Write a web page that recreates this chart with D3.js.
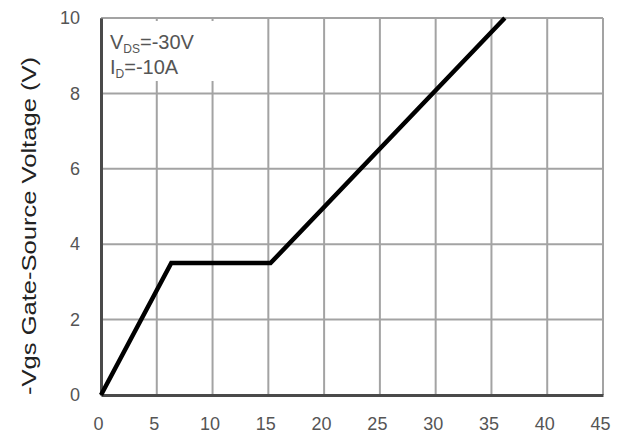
<!DOCTYPE html>
<html>
<head>
<meta charset="utf-8">
<script src="https://cdn.jsdelivr.net/npm/d3@7"></script>
<style>
  html, body { margin: 0; padding: 0; background: #fff; }
  svg { display: block; }
</style>
</head>
<body>
<svg id="chart" width="635" height="437"></svg>
<script>
// Data
const chargeNC = [0, 6.3, 15.2, 36.2];       // x: total gate charge (nC)
const vgsValues = [0, 3.5, 3.5, 10];          // y: -Vgs (V)
const xTicks = [0, 5, 10, 15, 20, 25, 30, 35, 40, 45];
const yTicks = [0, 2, 4, 6, 8, 10];
const yTitle = "-Vgs Gate-Source Voltage (V)";
const noteLines = [
  { main: "V", sub: "DS", rest: "=-30V" },
  { main: "I", sub: "D", rest: "=-10A" }
];

const svg = d3.select("#chart");
const L = 101, R = 603, T = 18, B = 395;
const x = d3.scaleLinear().domain([0, 45]).range([L, R]);
const y = d3.scaleLinear().domain([0, 10]).range([B, T]);
const font = "'Liberation Sans', Arial, sans-serif";

// Grid
const grid = svg.append("g").attr("stroke", "#a3a3a3").attr("stroke-width", 2);
grid.selectAll("line.v").data(xTicks).join("line")
  .attr("x1", d => x(d)).attr("x2", d => x(d)).attr("y1", T).attr("y2", B);
grid.selectAll("line.h").data(yTicks).join("line")
  .attr("x1", L).attr("x2", R).attr("y1", d => y(d)).attr("y2", d => y(d));

// Annotation background
svg.append("rect").attr("x", L + 2).attr("y", T + 3).attr("width", 112).attr("height", 60).attr("fill", "#fff");

// Axes (left & bottom, darker)
const yAxis = d3.axisLeft(y).tickValues(yTicks).tickSize(0).tickPadding(21).tickFormat(d3.format("d"));
const xAxis = d3.axisBottom(x).tickValues(xTicks).tickSize(0).tickPadding(22).tickFormat(d3.format("d"));
const gy = svg.append("g").attr("transform", `translate(${L},0)`).call(yAxis);
const gx = svg.append("g").attr("transform", `translate(0,${B})`).call(xAxis);
[gx, gy].forEach(g => {
  g.select(".domain").attr("stroke", "#4a4a4a").attr("stroke-width", 3);
  g.selectAll("text").attr("fill", "#555").style("font-family", font).style("font-size", "18px");
});
gx.selectAll("text").attr("dx", -3);

// Curve
svg.append("path")
  .datum(chargeNC.map((c, i) => [c, vgsValues[i]]))
  .attr("fill", "none").attr("stroke", "#000").attr("stroke-width", 4.5)
  .attr("stroke-linejoin", "miter")
  .attr("d", d3.line().x(d => x(d[0])).y(d => y(d[1])));

// Annotation text
noteLines.forEach((n, i) => {
  const t = svg.append("text").attr("x", 110).attr("y", 49 + i * 25)
    .attr("fill", "#555").style("font-family", font).style("font-size", "20px");
  t.append("tspan").text(n.main);
  t.append("tspan").attr("dy", 4).style("font-size", "12px").text(n.sub);
  t.append("tspan").attr("dy", -4).text(n.rest);
});

// Y title
svg.append("text")
  .attr("transform", `translate(36,${(57 + 395) / 2}) rotate(-90)`)
  .attr("text-anchor", "middle")
  .attr("textLength", 338).attr("lengthAdjust", "spacingAndGlyphs")
  .attr("fill", "#222").style("font-family", font).style("font-size", "21px")
  .text(yTitle);
</script>
</body>
</html>
